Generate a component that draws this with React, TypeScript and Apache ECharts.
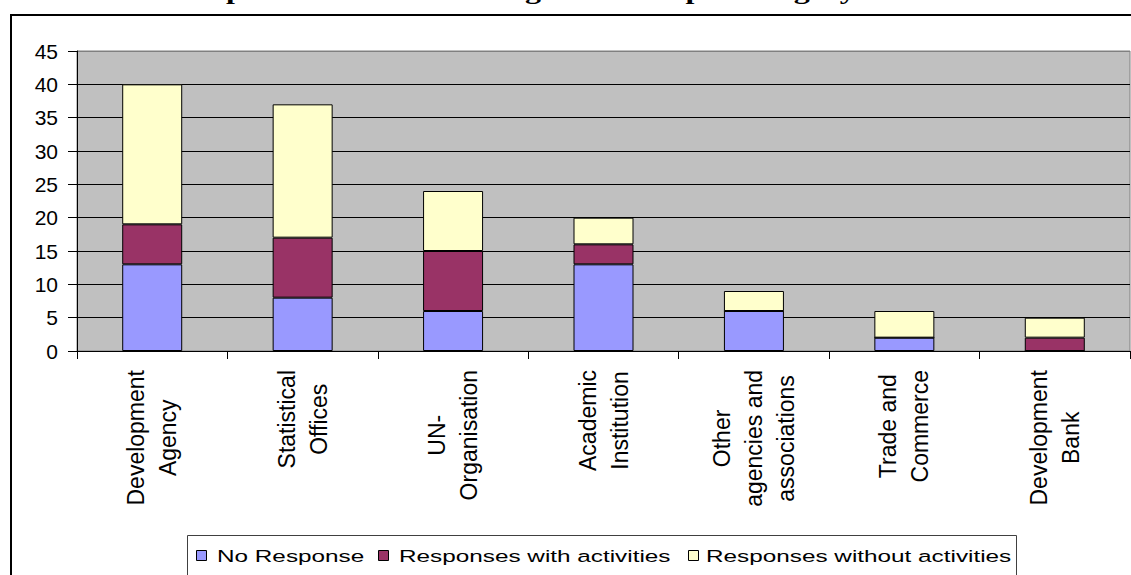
import React, { useEffect, useRef } from "react";
import * as echarts from "echarts";

const titleText = "Chart 1: Participation of the donor organisations per category";
const categories = [
  "Development\nAgency",
  "Statistical\nOffices",
  "UN-\nOrganisation",
  "Academic\nInstitution",
  "Other\nagencies and\nassociations",
  "Trade and\nCommerce",
  "Development\nBank",
];
const seriesNames = ["No Response", "Responses with activities", "Responses without activities"];
const noResponse = [13, 8, 6, 13, 6, 2, 0];
const withActivities = [6, 9, 9, 3, 0, 0, 2];
const withoutActivities = [21, 20, 9, 4, 3, 4, 3];
const seriesColors = ["#9999FF", "#993366", "#FFFFCC"];
const yMin = 0;
const yMax = 45;
const yStep = 5;

const FONT = "'Liberation Sans', Arial, sans-serif";

export default function App() {
  const ref = useRef<HTMLDivElement>(null);
  useEffect(() => {
    if (!ref.current) return;
    const chart = echarts.init(ref.current, undefined, { renderer: "svg" });
    const data = [noResponse, withActivities, withoutActivities];

    const legendMarkerX = [196, 378, 688];
    const legendTextX = [217, 399, 706];
    const legendY = 555.5;
    const legendEls: any[] = [];
    seriesNames.forEach((name, i) => {
      legendEls.push({
        type: "rect",
        shape: { x: legendMarkerX[i] + 0.5, y: legendY - 5, width: 10, height: 10 },
        style: { fill: seriesColors[i], stroke: "#000", lineWidth: 1 },
      });
      legendEls.push({
        type: "text",
        x: legendTextX[i],
        y: legendY,
        scaleX: 1.43,
        style: {
          text: name,
          fontFamily: FONT,
          fontSize: 17,
          fill: "#000",
          align: "left",
          verticalAlign: "middle",
        },
      });
    });

    const splitColors = [] as string[];
    for (let v = yMin; v <= yMax; v += yStep) splitColors.push(v === yMax ? "#808080" : "#000");

    chart.setOption({
      animation: false,
      backgroundColor: "#fff",
      grid: {
        left: 77,
        top: 51,
        width: 1053,
        height: 300,
        show: true,
        backgroundColor: "#C0C0C0",
        borderColor: "#808080",
        borderWidth: 1,
      },
      xAxis: {
        type: "category",
        data: categories,
        boundaryGap: true,
        axisLine: { show: true, lineStyle: { color: "#000", width: 1 } },
        axisTick: { show: true, length: 8, inside: false, interval: 0, lineStyle: { color: "#000" } },
        axisLabel: {
          interval: 0,
          rotate: 90,
          margin: 19,
          color: "#000",
          fontFamily: FONT,
          fontSize: 23,
          lineHeight: 32,
          formatter: (v: string) =>
            v
              .split("\n")
              .map((l) => `{c|${l}}`)
              .join("\n"),
          rich: {
            c: { align: "center", fontFamily: FONT, fontSize: 23, lineHeight: 32, color: "#000" },
          },
        },
        splitLine: { show: false },
      },
      yAxis: {
        type: "value",
        min: yMin,
        max: yMax,
        interval: yStep,
        axisLine: { show: true, lineStyle: { color: "#000", width: 1 } },
        axisTick: { show: true, length: 9, inside: false, lineStyle: { color: "#000" } },
        axisLabel: { color: "#000", fontFamily: FONT, fontSize: 21, margin: 19 },
        splitLine: { show: true, lineStyle: { color: splitColors, width: 1 } },
      },
      series: seriesNames.map((name, i) => ({
        name,
        type: "bar",
        stack: "total",
        barWidth: 60,
        data: data[i],
        itemStyle: { color: seriesColors[i], borderColor: "#000", borderWidth: 1 },
      })),
      graphic: [
        {
          type: "rect",
          z: -1,
          shape: { x: 11, y: 15, width: 1300, height: 700 },
          style: { fill: "none", stroke: "#000", lineWidth: 2 },
        },
        {
          type: "text",
          x: 10,
          y: -9,
          scaleX: 1.33,
          style: {
            text: titleText,
            fontFamily: "'Liberation Serif', 'Times New Roman', serif",
            fontWeight: "bold",
            fontSize: 24,
            fill: "#000",
            align: "left",
            verticalAlign: "middle",
          },
        },
        {
          type: "rect",
          shape: { x: 187.5, y: 535.5, width: 829, height: 80 },
          style: { fill: "#fff", stroke: "#404040", lineWidth: 1 },
        },
        ...legendEls,
      ],
    });
    return () => chart.dispose();
  }, []);
  return (
    <div
      ref={ref}
      style={{ position: "fixed", left: 0, top: 0, width: 1131, height: 575, background: "#fff" }}
    />
  );
}
